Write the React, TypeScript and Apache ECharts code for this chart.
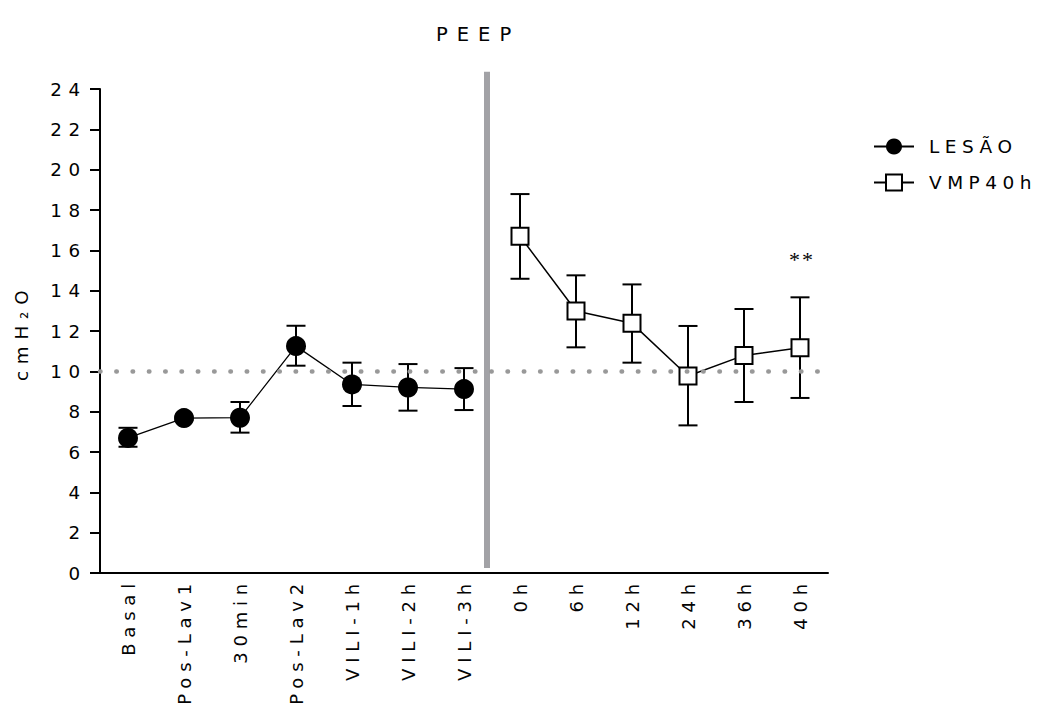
import React, { useEffect, useRef } from "react";
import * as echarts from "echarts";

const categories = ["Basal", "Pos-Lav1", "30min", "Pos-Lav2", "VILI-1h", "VILI-2h", "VILI-3h", "0h", "6h", "12h", "24h", "36h", "40h"];
const lesaoIdx = [0, 1, 2, 3, 4, 5, 6];
const lesaoMean = [6.7, 7.68, 7.7, 11.25, 9.35, 9.2, 9.12];
const lesaoLow = [6.26, 7.6, 6.96, 10.28, 8.28, 8.05, 8.08];
const lesaoHigh = [7.2, 7.76, 8.48, 12.26, 10.43, 10.36, 10.16];
const vmpIdx = [7, 8, 9, 10, 11, 12];
const vmpMean = [16.7, 12.99, 12.38, 9.77, 10.79, 11.17];
const vmpLow = [14.59, 11.19, 10.43, 7.32, 8.48, 8.68];
const vmpHigh = [18.79, 14.76, 14.31, 12.25, 13.09, 13.67];
const refLevel = 10;
const dividerRange = [6, 0.25, 24.85];
const starValue = 15.55;

const FONT = "DejaVu Sans, Liberation Sans, sans-serif";
const LEGEND_COLOR = "#010101";
const TITLE_COLOR = "#020202";
const STAR_COLOR = "#030303";
const XLABEL_COLOR = "#040404";

const css = `
#root svg text { letter-spacing: 6.8px; }
#root svg text[fill="${LEGEND_COLOR}"], #root svg text[fill="rgb(1,1,1)"] { letter-spacing: 5.5px; }
#root svg text[fill="${TITLE_COLOR}"], #root svg text[fill="rgb(2,2,2)"] { letter-spacing: 9px; }
#root svg text[fill="${STAR_COLOR}"], #root svg text[fill="rgb(3,3,3)"] { letter-spacing: 2px; }
#root svg text[fill="${XLABEL_COLOR}"], #root svg text[fill="rgb(4,4,4)"] { letter-spacing: 5.8px; }
`;

export default function App() {
  const ref = useRef<HTMLDivElement>(null);
  useEffect(() => {
    if (!ref.current) return;
    const chart = echarts.init(ref.current, null, { renderer: "svg" });
    const lesaoData = categories.map((_, i) => {
      const k = lesaoIdx.indexOf(i);
      return k >= 0 ? lesaoMean[k] : null;
    });
    const vmpData = categories.map((_, i) => {
      const k = vmpIdx.indexOf(i);
      return k >= 0 ? vmpMean[k] : null;
    });
    const errData = [
      ...lesaoIdx.map((c, k) => [c, lesaoLow[k], lesaoHigh[k]]),
      ...vmpIdx.map((c, k) => [c, vmpLow[k], vmpHigh[k]]),
    ];
    const option: any = {
      animation: false,
      title: {
        text: "PEEP",
        left: 431,
        top: 19,
        textStyle: { fontFamily: FONT, fontSize: 19.5, fontWeight: "normal", color: TITLE_COLOR },
      },
      grid: { left: 100, right: 214, top: 89, bottom: 138, containLabel: false },
      legend: {
        orient: "vertical",
        left: 868,
        top: 132,
        itemWidth: 40,
        itemHeight: 20,
        itemGap: 17,
        data: ["LESÃO", "VMP40h"],
        textStyle: { fontFamily: FONT, fontSize: 18.5, color: LEGEND_COLOR, padding: [0, 0, 0, 10] },
      },
      xAxis: {
        type: "category",
        data: categories,
        boundaryGap: true,
        axisLine: { lineStyle: { color: "#000", width: 2 } },
        axisTick: { alignWithLabel: true, length: 8, lineStyle: { color: "#000", width: 2 } },
        axisLabel: { rotate: 90, margin: 5, fontFamily: FONT, fontSize: 18, color: XLABEL_COLOR, interval: 0 },
        splitLine: { show: false },
      },
      yAxis: {
        type: "value",
        min: 0,
        max: 24,
        interval: 2,
        axisLine: { show: true, lineStyle: { color: "#000", width: 2 } },
        axisTick: { show: true, length: 10, lineStyle: { color: "#000", width: 2 } },
        axisLabel: { margin: 13, fontFamily: FONT, fontSize: 18.3, color: "#000" },
        splitLine: { show: false },
      },
      graphic: [
        {
          type: "text",
          x: 12,
          y: 381,
          rotation: Math.PI / 2,
          style: {
            text: "cmH₂O",
            fontFamily: FONT,
            fontSize: 18.3,
            fill: "#000",
          },
        },
      ],
      series: [
        {
          type: "custom",
          name: "divider",
          z: 1,
          silent: true,
          data: [dividerRange],
          encode: { x: 0, y: [1, 2] },
          renderItem: (params: any, api: any) => {
            const c = api.value(0);
            const p1 = api.coord([c, api.value(1)]);
            const p2 = api.coord([c, api.value(2)]);
            const half = api.size([1, 0])[0] / 2;
            return {
              type: "rect",
              shape: { x: p1[0] + half - 8, y: p2[1], width: 6, height: p1[1] - p2[1] },
              style: { fill: "#a2a2a6" },
            };
          },
        },
        {
          type: "custom",
          name: "errors",
          z: 2,
          silent: true,
          data: errData,
          encode: { x: 0, y: [1, 2] },
          renderItem: (params: any, api: any) => {
            const c = api.value(0);
            const lo = api.coord([c, api.value(1)]);
            const hi = api.coord([c, api.value(2)]);
            const x = lo[0];
            const w = 9.5;
            const st = { stroke: "#000", lineWidth: 2 };
            return {
              type: "group",
              children: [
                { type: "line", shape: { x1: x, y1: hi[1], x2: x, y2: lo[1] }, style: st },
                { type: "line", shape: { x1: x - w, y1: hi[1], x2: x + w, y2: hi[1] }, style: st },
                { type: "line", shape: { x1: x - w, y1: lo[1], x2: x + w, y2: lo[1] }, style: st },
              ],
            };
          },
        },
        {
          type: "line",
          name: "LESÃO",
          z: 3,
          data: lesaoData,
          connectNulls: false,
          symbol: "circle",
          symbolSize: 20,
          showAllSymbol: true,
          lineStyle: { color: "#000", width: 1.3 },
          itemStyle: { color: "#000", borderColor: "#000", borderWidth: 0 },
          markLine: {
            silent: true,
            symbol: "none",
            label: { show: false },
            lineStyle: { color: "#999", width: 4.5, type: [0.5, 15.8], cap: "round" },
            data: [{ yAxis: refLevel }],
          },
        },
        {
          type: "line",
          name: "VMP40h",
          z: 4,
          data: vmpData,
          symbol: "rect",
          symbolSize: 17,
          showAllSymbol: true,
          lineStyle: { color: "#000", width: 1.5 },
          itemStyle: { color: "#fff", borderColor: "#000", borderWidth: 2 },
          markPoint: {
            silent: true,
            symbol: "circle",
            symbolSize: 1,
            itemStyle: { color: "rgba(0,0,0,0)" },
            label: {
              show: true,
              formatter: "**",
              position: "inside",
              offset: [2, 0],
              fontFamily: "Liberation Serif, serif",
              fontSize: 22,
              color: STAR_COLOR,
            },
            data: [{ coord: [categories[12], starValue], value: "**" }],
          },
        },
      ],
    };
    chart.setOption(option);
    return () => chart.dispose();
  }, []);
  return (
    <>
      <style>{css}</style>
      <div ref={ref} style={{ width: 1042, height: 711, margin: -8 }} />
    </>
  );
}
